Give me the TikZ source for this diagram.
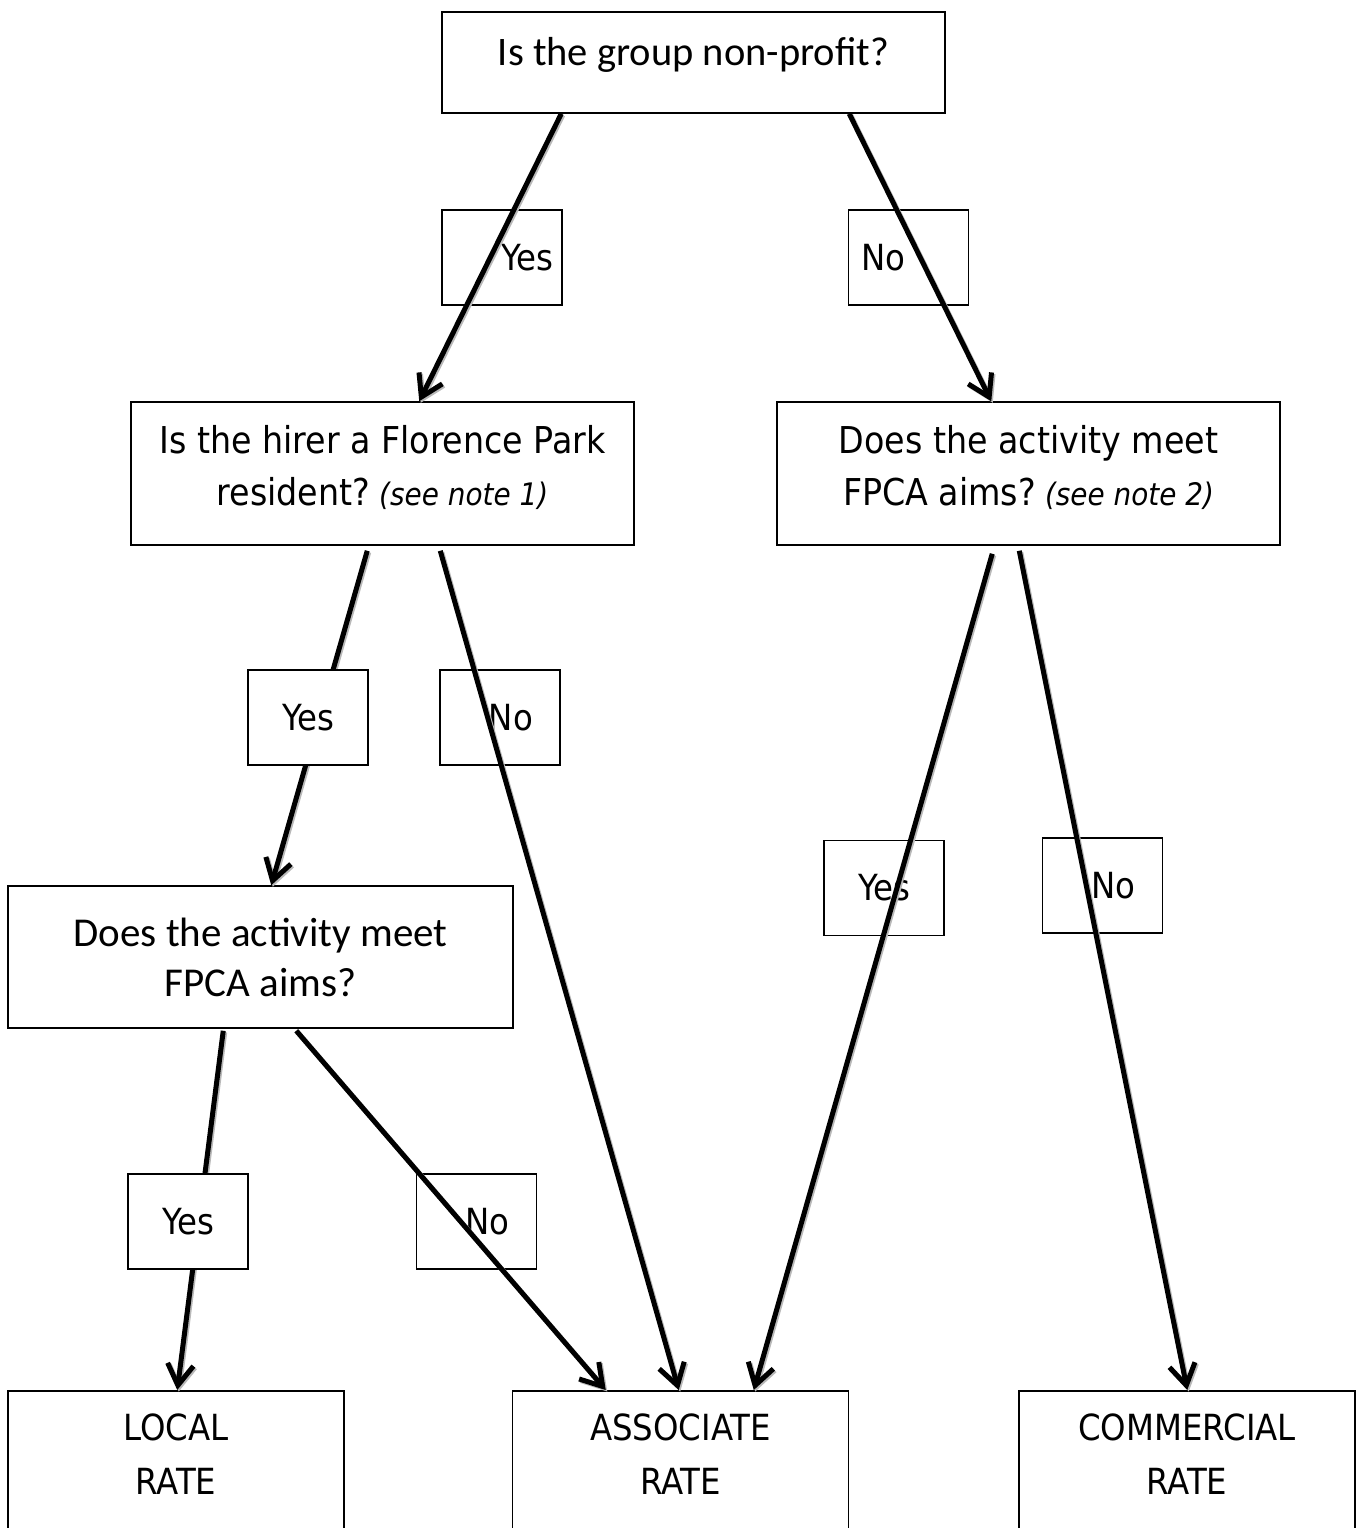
\documentclass[tikz,border=0pt]{standalone}
\usepackage{fontspec}
\setmainfont{DejaVu Sans Condensed}
\newfontfamily\calfont{Carlito}
\usetikzlibrary{arrows.meta,calc,positioning}

\newcommand{\note}[1]{{\fontsize{31}{52}\selectfont\itshape(see note #1)}}
% arrow with its grey shadow
\newcommand{\flowto}[2]{%
    \begin{scope}[transform canvas={shift={(1.5pt,-1.5pt)}}]
        \draw[flow, draw=gray!55] #1 -- #2;
    \end{scope}
    \draw[flow] #1 -- #2;}

\tikzset{
    box/.style={draw, line width=1.5pt, align=center, inner sep=4pt},
    question/.style={box, minimum width=503pt, minimum height=143pt, font=\fontsize{37}{52}\selectfont},
    rate/.style={box, anchor=north, minimum width=336pt, minimum height=142pt, text depth=16pt, font=\fontsize{36}{54}\selectfont},
    answer/.style={draw, line width=1.5pt, minimum width=120pt, minimum height=95pt, inner sep=0pt, font=\fontsize{36}{44}\selectfont},
    noanswer/.style={answer, text width=66pt, inner xsep=27pt, align=right},
    flow/.style={->, line width=5pt}
}

\begin{document}
\begin{tikzpicture}[x=1pt, y=-1pt, >={Straight Barb[length=21pt, width=26pt]}, line join=miter]
    \useasboundingbox (0,0) rectangle (1357,1528);

    % questions
    \node[box, minimum width=503pt, minimum height=101pt, text depth=22pt, font=\calfont\fontsize{40.5}{50}\selectfont]
                               (profit)     at (693.5,62.5) {Is the group non-profit?};
    \node[question, text depth=17pt] (resident) at (382.5,473.5) {Is the hirer a Florence Park\\resident?\hspace{9pt}\note{1}};
    \node[question, text depth=17pt] (aims)     at (1028.5,473.5) {Does the activity meet\\FPCA aims?\hspace{9pt}\note{2}};
    \node[question, minimum width=505pt, minimum height=142pt, font=\calfont\fontsize{41}{50}\selectfont]
                               (resaims)    at (260.5,957) {Does the activity meet\\FPCA aims?};

    % rates
    \node[rate]                (local)      at (176,1390) {LOCAL\\RATE};
    \node[rate]                (associate)  at (680.5,1390) {ASSOCIATE\\RATE};
    \node[rate]                (commercial) at (1187,1390) {COMMERCIAL\\RATE};

    % answers under the arrows
    \node[answer, text width=102pt, inner xsep=9pt, align=right]
                               (yesprofit)  at (502,257.5) {Yes};
    \node[answer, text width=94pt, inner xsep=13pt, align=left]
                               (noprofit)   at (908.5,257.5) {No};
    \node[noanswer]            (nores)      at (500,717.5) {No};
    \node[answer]              (yesaims)    at (884,888) {Yes};
    \node[noanswer]            (noaims)     at (1102.5,885.5) {No};
    \node[noanswer]            (noresaims)  at (476.5,1221.5) {No};

    % arrows
    \flowto{([xshift=120pt]profit.south west)}{([xshift=289pt]resident.north west)}
    \flowto{([xshift=408pt]profit.south west)}{([xshift=215pt]aims.north west)}
    \flowto{([xshift=237pt, yshift=-5pt]resident.south west)}{([xshift=264pt]resaims.north west)}
    \flowto{([xshift=310pt, yshift=-5pt]resident.south west)}{([xshift=167pt]associate.north west)}
    \flowto{([xshift=216pt, yshift=-8pt]aims.south west)}{([xshift=242pt]associate.north west)}
    \flowto{([xshift=243pt, yshift=-5pt]aims.south west)}{([xshift=169pt]commercial.north west)}
    \flowto{([xshift=216pt, yshift=-2pt]resaims.south west)}{([xshift=170pt]local.north west)}
    \flowto{([xshift=289pt, yshift=-2pt]resaims.south west)}{([xshift=94pt]associate.north west)}

    % answers over the arrows
    \node[answer, fill=white]  (yesres)     at (308,717.5) {Yes};
    \node[answer, fill=white]  (yesresaims) at (188,1221.5) {Yes};
\end{tikzpicture}
\end{document}
